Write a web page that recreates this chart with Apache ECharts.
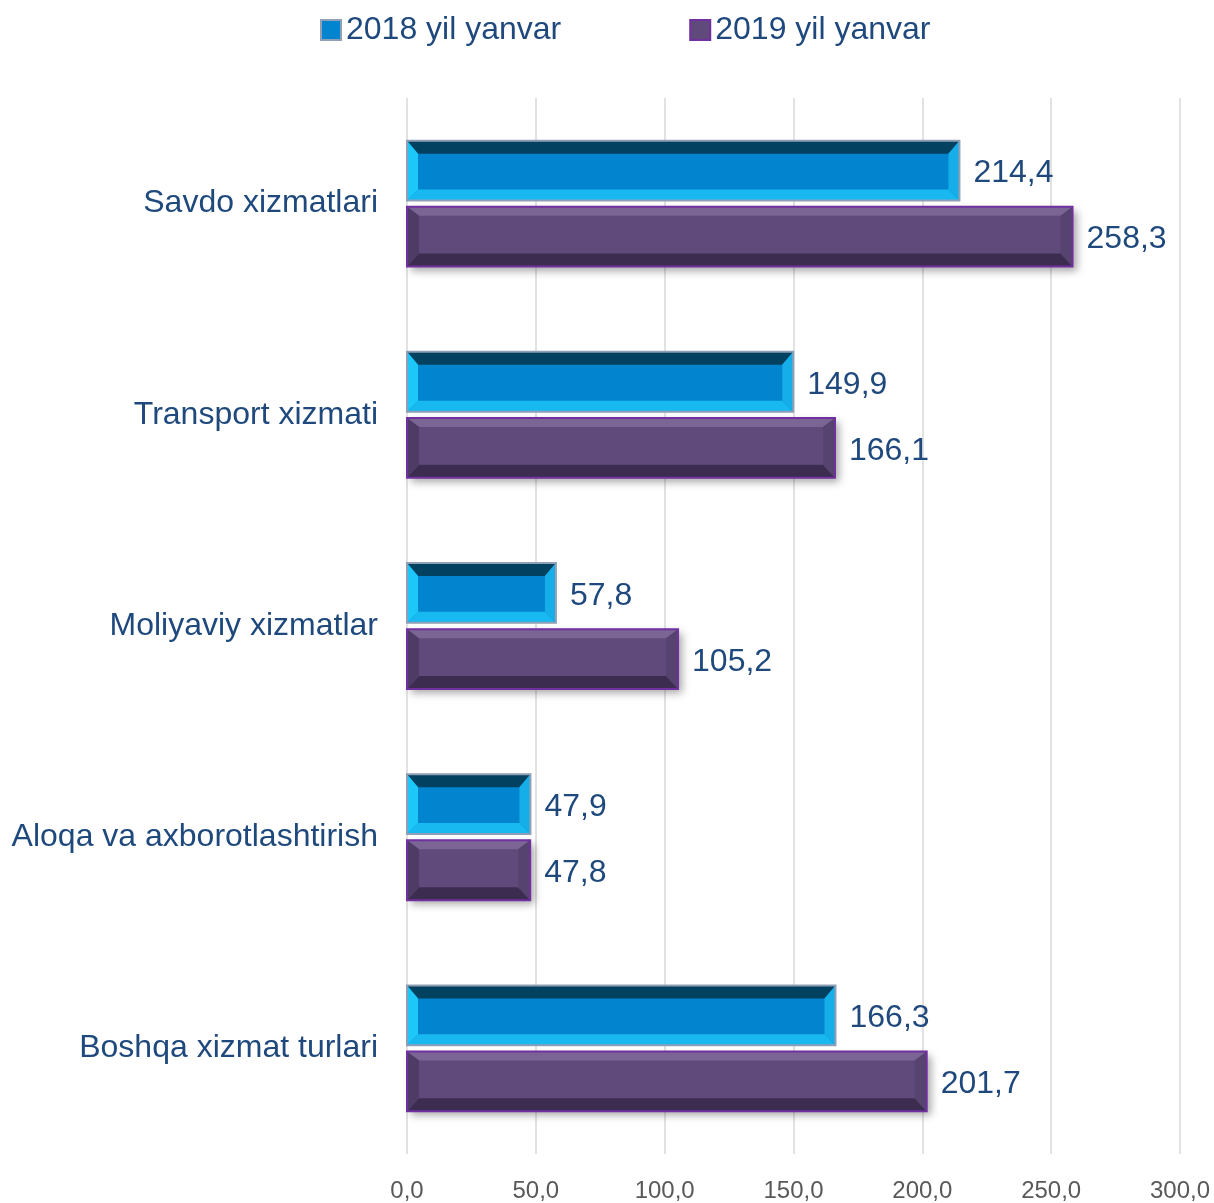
<!DOCTYPE html>
<html>
<head>
<meta charset="utf-8">
<script src="https://cdn.jsdelivr.net/npm/echarts@6/dist/echarts.min.js"></script>
<style>
  html, body { margin: 0; padding: 0; background: #fff; }
  #chart { width: 1214px; height: 1203px; }
</style>
</head>
<body>
<div id="chart"></div>
<script>
// categories, top to bottom
const categories = ['Savdo xizmatlari', 'Transport xizmati', 'Moliyaviy xizmatlar', 'Aloqa va axborotlashtirish', 'Boshqa xizmat turlari'];
const seriesNames = ['2018 yil yanvar', '2019 yil yanvar'];
const values2018 = [214.4, 149.9, 57.8, 47.9, 166.3];
const values2019 = [258.3, 166.1, 105.2, 47.8, 201.7];
const xTicks = [0, 50, 100, 150, 200, 250, 300];

// bevel palettes (t/l/b/r = bevel widths)
const styles = [
  { main: '#0284CE', top: '#02415F', bottom: '#18B8F0', left: '#1DC8F8', right: '#15AEE8', border: '#8E9FB6',
    t: 13, l: 11, b: 11, r: 11, shadow: false },
  { main: '#604A7B', top: '#7B6595', bottom: '#3C2C50', left: '#4E3B66', right: '#56436F', border: '#7030A0',
    t: 9, l: 12, b: 13, r: 12, shadow: true }
];

const chart = echarts.init(document.getElementById('chart'));

function fmt(v) { return v.toFixed(1).replace('.', ','); }

function makeRender(idx) {
  const st = styles[idx];
  return function (params, api) {
    const val = api.value(0);
    const cat = api.value(1);
    const p0 = api.coord([0, cat]);
    const p1 = api.coord([val, cat]);
    const band = api.size([0, 1])[1];
    const h = band * 0.283;
    const gap = band * 0.03;
    const cy = idx === 0 ? p0[1] - gap / 2 - h / 2 : p0[1] + gap / 2 + h / 2;
    const x0 = p0[0], y0 = cy - h / 2, w = p1[0] - p0[0];
    const t = st.t, l = Math.min(st.l, w / 2), b = st.b, r = Math.min(st.r, w / 2);
    const x1 = x0 + w, y1 = y0 + h;
    const poly = (pts, color) => ({ type: 'polygon', shape: { points: pts }, style: { fill: color } });
    return {
      type: 'group',
      children: [
        { type: 'rect', shape: { x: x0, y: y0, width: w, height: h },
          style: st.shadow ? { fill: st.main, shadowBlur: 8, shadowOffsetX: 4, shadowOffsetY: 4, shadowColor: 'rgba(0,0,0,0.35)' } : { fill: st.main } },
        poly([[x0, y0], [x1, y0], [x1 - r, y0 + t], [x0 + l, y0 + t]], st.top),
        poly([[x0, y1], [x1, y1], [x1 - r, y1 - b], [x0 + l, y1 - b]], st.bottom),
        poly([[x0, y0], [x0 + l, y0 + t], [x0 + l, y1 - b], [x0, y1]], st.left),
        poly([[x1, y0], [x1 - r, y0 + t], [x1 - r, y1 - b], [x1, y1]], st.right),
        { type: 'rect', shape: { x: x0, y: y0, width: w, height: h },
          style: { fill: 'none', stroke: st.border, lineWidth: 2 } },
        { type: 'text', x: x1 + 14, y: cy + 3,
          style: { text: fmt(val), fill: '#1F497D', font: '32px "Liberation Sans", Arial, sans-serif', textAlign: 'left', textVerticalAlign: 'middle' } }
      ]
    };
  };
}

const option = {
  animation: false,
  legend: {
    top: 9,
    left: 315,
    itemGap: 128,
    itemWidth: 20,
    itemHeight: 20,
    icon: 'rect',
    textStyle: { color: '#1F497D', fontSize: 32, fontFamily: 'Liberation Sans, Arial, sans-serif' },
    data: seriesNames
  },
  grid: { left: 407, right: 34, top: 98, bottom: 47 },
  xAxis: {
    type: 'value',
    min: xTicks[0],
    max: xTicks[xTicks.length - 1],
    interval: 50,
    axisLine: { show: false },
    axisTick: { show: false },
    splitLine: { lineStyle: { color: '#D9D9D9', width: 1.5 } },
    axisLabel: { color: '#595959', fontSize: 24, fontFamily: 'Liberation Sans, Arial, sans-serif', margin: 25, formatter: v => fmt(v) }
  },
  yAxis: {
    type: 'category',
    inverse: true,
    data: categories,
    axisLine: { show: false },
    axisTick: { show: false },
    axisLabel: { color: '#1F497D', fontSize: 32, fontFamily: 'Liberation Sans, Arial, sans-serif', margin: 29, padding: [4, 0, 0, 0] }
  },
  series: [
    {
      name: seriesNames[0],
      type: 'custom',
      itemStyle: { color: '#0284CE', borderColor: '#8E9FB6', borderWidth: 1 },
      encode: { x: 0, y: 1 },
      renderItem: makeRender(0),
      data: values2018.map((v, i) => [v, i])
    },
    {
      name: seriesNames[1],
      type: 'custom',
      itemStyle: { color: '#604A7B', borderColor: '#7030A0', borderWidth: 1 },
      encode: { x: 0, y: 1 },
      renderItem: makeRender(1),
      data: values2019.map((v, i) => [v, i])
    }
  ]
};

chart.setOption(option);
</script>
</body>
</html>
